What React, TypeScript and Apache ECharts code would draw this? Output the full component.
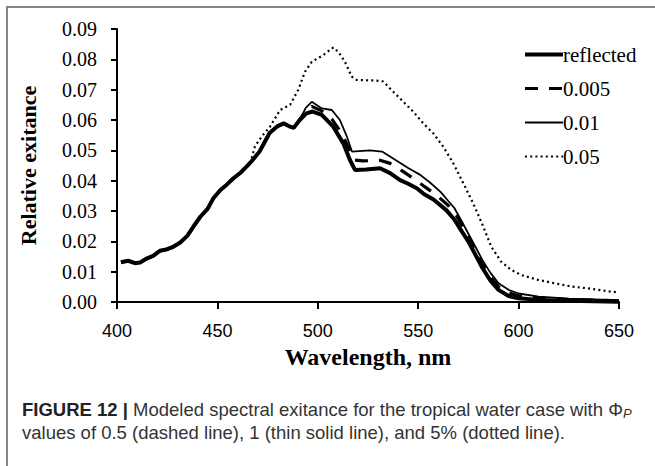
import React, { useEffect, useRef } from "react";
import * as echarts from "echarts";

// ---------- data ----------
const X_MIN = 400;
const X_MAX = 650;
const X_STEP = 50;
const Y_MIN = 0;
const Y_MAX = 0.09;
const Y_STEP = 0.01;

const SERIES_NAMES = ["reflected", "0.005", "0.01", "0.05"];

// part of the spectrum where all four curves coincide
const COMMON_RISE: [number, number][] = [
  [402, 0.0131], [405.5, 0.0136], [409, 0.0128], [411.5, 0.013], [415, 0.0144],
  [418, 0.0152], [421.5, 0.0169], [425, 0.0174], [428, 0.0182], [431.5, 0.0196],
  [435, 0.0218], [438, 0.0248], [441.5, 0.0281], [445, 0.0306], [448, 0.0342],
  [451.5, 0.0369], [454.5, 0.0386], [458, 0.0408], [461.5, 0.0426], [464.5, 0.0446],
  [466.5, 0.046],
];

// part where the three black curves still coincide
const COMMON_BLACK: [number, number][] = [
  [471, 0.0496], [476, 0.0557], [480, 0.058], [483, 0.0589], [485.5, 0.058],
  [488, 0.0574], [491, 0.06],
];

const REFLECTED_TAIL: [number, number][] = [
  [494.3, 0.0622], [497.5, 0.0628], [502, 0.0617], [507.7, 0.0578], [512.7, 0.0523],
  [516, 0.0468], [518.6, 0.0435], [524, 0.0437], [531, 0.0441], [536, 0.0425],
  [541, 0.0402], [545, 0.039], [549.3, 0.0375], [553, 0.0355], [557.6, 0.0338],
  [564, 0.0303], [568, 0.0272], [571, 0.024], [575, 0.0199], [578, 0.0162],
  [582, 0.0112], [586, 0.007], [590, 0.004], [595, 0.002], [600, 0.0012],
  [610, 0.0007], [625, 0.0004], [650, 0.0001],
];

const P005_TAIL: [number, number][] = [
  [494, 0.063], [497, 0.0645], [502, 0.063], [507, 0.0603], [511, 0.0565],
  [514.5, 0.052], [518, 0.0468], [522.5, 0.0465], [531, 0.0467], [536, 0.0457],
  [542, 0.0432], [547.5, 0.0408], [553, 0.0381], [559, 0.0353], [565, 0.0318],
  [569, 0.0285], [572, 0.025], [575, 0.0212], [578, 0.0175], [582, 0.0125],
  [586, 0.0083], [590, 0.005], [595, 0.003], [600, 0.002], [610, 0.0013],
  [625, 0.0008], [650, 0.0004],
];

const P01_TAIL: [number, number][] = [
  [494, 0.064], [497, 0.066], [502, 0.0638], [507, 0.0633], [511, 0.06],
  [514.5, 0.0545], [517, 0.0496], [526, 0.05], [532, 0.0496], [539.5, 0.0465],
  [545, 0.0442], [551, 0.0419], [556, 0.0393], [561, 0.0364], [565, 0.0333],
  [568, 0.031], [572, 0.0262], [575, 0.0225], [578, 0.0188], [582, 0.0138],
  [586, 0.0096], [590, 0.0062], [595, 0.004], [600, 0.0028], [610, 0.0018],
  [625, 0.0011], [650, 0.0006],
];

const P05_TAIL: [number, number][] = [
  [468.7, 0.0513], [472, 0.0545], [476.2, 0.0578], [481.2, 0.0633], [486.2, 0.065],
  [490.3, 0.07], [493.6, 0.0759], [497, 0.0792], [502.7, 0.0814], [507.7, 0.0839],
  [510.2, 0.0825], [513.5, 0.0792], [516.9, 0.0743], [519.4, 0.0732], [529.3, 0.073],
  [532.6, 0.0727], [537.6, 0.0693], [542.6, 0.066], [547.6, 0.0627], [552.5, 0.0589],
  [557.5, 0.0556], [562.5, 0.0512], [567.5, 0.0457], [572.5, 0.0391], [577.4, 0.0325],
  [582, 0.0255], [586.4, 0.0182], [591.3, 0.0133], [596.3, 0.0106], [601.3, 0.0089],
  [609.6, 0.0073], [617.9, 0.0062], [626.2, 0.0051], [634.5, 0.0045], [642.8, 0.0037],
  [650, 0.0031],
];

const X_AXIS_TITLE = "Wavelength, nm";
const Y_AXIS_TITLE = "Relative exitance";
const CAPTION_LINE_1 =
  "{b|FIGURE 12 |} Modeled spectral exitance for the tropical water case with Φ{s|P}";
const CAPTION_LINE_2 =
  "values of 0.5 (dashed line), 1 (thin solid line), and 5% (dotted line).";

// ---------- component ----------
export default function App() {
  const ref = useRef<HTMLDivElement>(null);

  useEffect(() => {
    if (!ref.current) return;
    const chart = echarts.init(ref.current, undefined, { renderer: "svg" });

    const serif = "'Liberation Serif', 'Times New Roman', serif";
    const sans = "'Liberation Sans', Arial, sans-serif";

    const reflected = [...COMMON_RISE, ...COMMON_BLACK, ...REFLECTED_TAIL];
    const p005 = [...COMMON_RISE, ...COMMON_BLACK, ...P005_TAIL];
    const p01 = [...COMMON_RISE, ...COMMON_BLACK, ...P01_TAIL];
    const p05 = [...COMMON_RISE, ...P05_TAIL];

    const base = {
      type: "line" as const,
      symbol: "none",
      smooth: false,
      itemStyle: { color: "#000" },
    };

    const captionSize = 18.5;

    chart.setOption({
      animation: false,
      backgroundColor: "#ffffff",
      grid: { left: 117, right: 36, top: 29, bottom: 164, containLabel: false },
      legend: {
        data: SERIES_NAMES,
        orient: "vertical",
        left: 518,
        top: 39,
        itemWidth: 38,
        itemHeight: 14,
        itemGap: 13,
        itemStyle: { opacity: 0, color: "transparent", borderWidth: 0 },
        lineStyle: { width: "inherit" },
        textStyle: {
          fontFamily: serif,
          fontSize: 21,
          color: "#000",
          lineHeight: 21,
          padding: [0, 0, 0, -5],
        },
      },
      xAxis: {
        type: "value",
        min: X_MIN,
        max: X_MAX,
        interval: X_STEP,
        name: X_AXIS_TITLE,
        nameLocation: "middle",
        nameGap: 40,
        nameTextStyle: {
          fontFamily: serif,
          fontWeight: "bold",
          fontSize: 24,
          color: "#000",
        },
        axisLine: { lineStyle: { color: "#000", width: 2 } },
        axisTick: { show: true, length: 7, lineStyle: { color: "#000", width: 2 } },
        axisLabel: {
          fontFamily: sans,
          fontSize: 18,
          color: "#000",
          margin: 20,
        },
        splitLine: { show: false },
      },
      yAxis: {
        type: "value",
        min: Y_MIN,
        max: Y_MAX,
        interval: Y_STEP,
        name: Y_AXIS_TITLE,
        nameLocation: "middle",
        nameGap: 78,
        nameTextStyle: {
          fontFamily: serif,
          fontWeight: "bold",
          fontSize: 22,
          color: "#000",
        },
        axisLine: { show: true, lineStyle: { color: "#000", width: 2 } },
        axisTick: { show: true, length: 6, lineStyle: { color: "#000", width: 2 } },
        axisLabel: {
          fontFamily: serif,
          fontSize: 20,
          color: "#000",
          margin: 20,
          formatter: (v: number) => v.toFixed(2),
        },
        splitLine: { show: false },
      },
      series: [
        {
          ...base,
          name: SERIES_NAMES[0],
          data: reflected,
          z: 4,
          lineStyle: { color: "#000", width: 4 },
        },
        {
          ...base,
          name: SERIES_NAMES[1],
          data: p005,
          z: 3,
          lineStyle: { color: "#000", width: 3.2, type: [13, 11] },
        },
        {
          ...base,
          name: SERIES_NAMES[2],
          data: p01,
          z: 3,
          lineStyle: { color: "#000", width: 1.8 },
        },
        {
          ...base,
          name: SERIES_NAMES[3],
          data: p05,
          z: 2,
          lineStyle: { color: "#000", width: 2.2, type: [2, 3.2] },
        },
      ],
      graphic: [
        {
          type: "line",
          shape: { x1: 7, y1: 7, x2: 655, y2: 7 },
          style: { stroke: "#858585", lineWidth: 2 },
          silent: true,
        },
        {
          type: "line",
          shape: { x1: 7, y1: 6, x2: 7, y2: 466 },
          style: { stroke: "#858585", lineWidth: 2 },
          silent: true,
        },
        {
          type: "text",
          x: 22,
          y: 409,
          style: {
            text: CAPTION_LINE_1,
            fontFamily: sans,
            fontSize: captionSize,
            fill: "#333",
            verticalAlign: "middle",
            rich: {
              b: { fontFamily: sans, fontSize: captionSize, fontWeight: "bold", fill: "#222" },
              s: {
                fontFamily: sans,
                fontSize: 13,
                fontStyle: "italic",
                fill: "#333",
                padding: [8, 0, 0, 0],
              },
            },
          },
        },
        {
          type: "text",
          x: 22,
          y: 432,
          style: {
            text: CAPTION_LINE_2,
            fontFamily: sans,
            fontSize: captionSize,
            fill: "#333",
            verticalAlign: "middle",
          },
        },
      ],
    });

    return () => chart.dispose();
  }, []);

  return (
    <div
      ref={ref}
      style={{ position: "fixed", left: 0, top: 0, width: 655, height: 466, background: "#fff" }}
    />
  );
}
